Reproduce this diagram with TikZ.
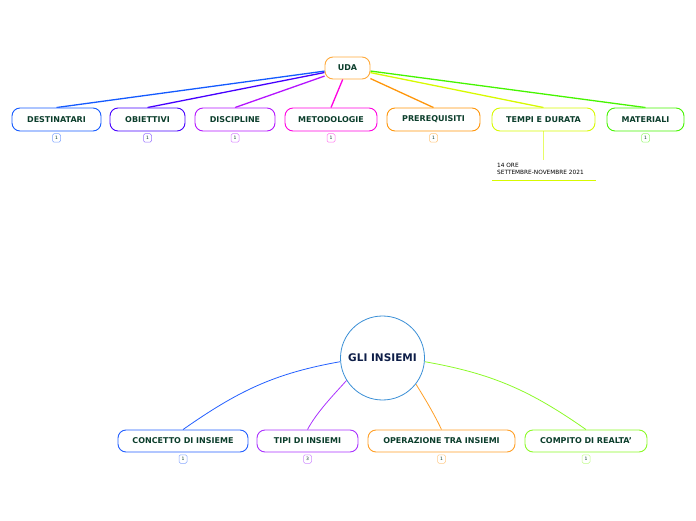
\documentclass[tikz,border=0pt]{standalone}
\usepackage{fontspec}
\setsansfont{DejaVu Sans}
\usepackage{tikz}
\usetikzlibrary{
	calc,
	backgrounds
}
\definecolor{TextGreen}{RGB}{12,62,44}
\definecolor{TextNavy}{RGB}{14,30,72}
\definecolor{UdaOrange}{RGB}{255,170,60}
\definecolor{RootBlue}{RGB}{58,143,214}
\definecolor{DestBlue}{RGB}{20,90,255}
\definecolor{ObiIndigo}{RGB}{70,0,255}
\definecolor{DiscViolet}{RGB}{180,20,255}
\definecolor{MetMagenta}{RGB}{255,0,225}
\definecolor{PreOrange}{RGB}{255,150,10}
\definecolor{TempLime}{RGB}{215,250,0}
\definecolor{MatGreen}{RGB}{70,245,0}
\definecolor{ConBlue}{RGB}{35,95,255}
\definecolor{TipViolet}{RGB}{170,50,255}
\definecolor{OpeOrange}{RGB}{255,160,40}
\definecolor{ComLime}{RGB}{140,250,40}

\begin{document}
\begin{tikzpicture}[x=1pt, y=1pt,
		topic/.style={draw=#1, fill=white, line width=0.9pt, rounded corners=8pt,
			minimum height=23pt, inner sep=0pt, text=TextGreen,
			font=\sffamily\bfseries\fontsize{8}{9}\selectfont},
		badge/.style={draw=#1!55, fill=white, line width=0.5pt, rounded corners=1.5pt,
			minimum width=8pt, minimum height=8.5pt, inner sep=0pt, text=TextGreen,
			font=\sffamily\fontsize{4.5}{4.5}\selectfont},
		link/.style={#1, line width=1.3pt},
		curve/.style={#1, line width=0.8pt}]
	\useasboundingbox (0,0) rectangle (696,520);

	% upper map
	\node[topic=UdaOrange, minimum width=45pt, minimum height=22pt] (uda) at (347.5,452) {UDA};
	\node[topic=DestBlue, minimum width=89pt] (dest) at (56.5,400.5) {DESTINATARI};
	\node[topic=ObiIndigo, minimum width=75pt] (obi) at (147.5,400.5) {OBIETTIVI};
	\node[topic=DiscViolet, minimum width=80pt] (disc) at (235,400.5) {DISCIPLINE};
	\node[topic=MetMagenta, minimum width=92pt] (meto) at (331,400.5) {METODOLOGIE};
	\node[topic=PreOrange, minimum width=93pt] (prer) at (433.5,400.5) {PREREQUISITI};
	\node[topic=TempLime, minimum width=103pt] (tempi) at (543.5,400.5) {TEMPI E DURATA};
	\node[topic=MatGreen, minimum width=77pt] (mat) at (645.5,400.5) {MATERIALI};

	\node[badge=DestBlue] (destn) at (56.5,382) {1};
	\node[badge=ObiIndigo] (obin) at (147.5,382) {1};
	\node[badge=DiscViolet] (discn) at (235,382) {1};
	\node[badge=MetMagenta] (meton) at (331,382) {1};
	\node[badge=PreOrange] (prern) at (433.5,382) {1};
	\node[badge=MatGreen] (matn) at (645.5,382) {1};

	% note under TEMPI E DURATA
	\coordinate (tnote) at (543.5,360);
	\node[anchor=north west, inner sep=0pt, align=left, text=black,
		font=\sffamily\fontsize{5.8}{7}\selectfont] (ore) at (497,357.5)
		{14 ORE\\SETTEMBRE-NOVEMBRE 2021};
	\coordinate (ulA) at (492,339);
	\coordinate (ulB) at (596,339);

	% lower map
	\node[circle, draw=RootBlue, fill=white, line width=0.8pt, minimum size=84pt, inner sep=0pt,
		text=TextNavy, font=\sffamily\bfseries\fontsize{10.5}{12}\selectfont] (ins) at (382.5,162) {GLI INSIEMI};
	\node[topic=ConBlue, minimum width=130pt, minimum height=22pt] (conc) at (183,79) {CONCETTO DI INSIEME};
	\node[topic=TipViolet, minimum width=101pt, minimum height=22pt] (tipi) at (307.5,79) {TIPI DI INSIEMI};
	\node[topic=OpeOrange, minimum width=147pt, minimum height=22pt] (oper) at (441.5,79) {OPERAZIONE TRA INSIEMI};
	\node[topic=ComLime, minimum width=122pt, minimum height=22pt] (comp) at (586,79) {COMPITO DI REALTA'};

	\node[badge=ConBlue] (concn) at (183,61) {1};
	\node[badge=TipViolet] (tipin) at (307.5,61) {3};
	\node[badge=OpeOrange] (opern) at (441.5,61) {1};
	\node[badge=ComLime] (compn) at (586,61) {1};

	\begin{scope}[on background layer]
		\draw[link=DestBlue] (uda) -- (dest.north);
		\draw[link=ObiIndigo] (uda) -- (obi.north);
		\draw[link=DiscViolet] (uda) -- (disc.north);
		\draw[link=MetMagenta] (uda) -- (meto.north);
		\draw[link=PreOrange] (uda) -- (prer.north);
		\draw[link=TempLime] (uda) -- (tempi.north);
		\draw[link=MatGreen] (uda) -- (mat.north);
		\draw[TempLime!60, line width=0.6pt] (tempi.south) -- (tnote);
		\draw[TempLime, line width=1pt] (ulA) -- (ulB);

		\draw[curve=ConBlue] (ins.185) to[out=190, in=35] (conc.north);
		\draw[curve=TipViolet] (ins.212) to[out=228, in=62, looseness=0.8] (tipi.north);
		\draw[curve=OpeOrange] (ins.322) to[out=-58, in=115, looseness=0.8] (oper.north);
		\draw[curve=ComLime] (ins.355) to[out=-10, in=145] (comp.north);
	\end{scope}
\end{tikzpicture}
\end{document}
